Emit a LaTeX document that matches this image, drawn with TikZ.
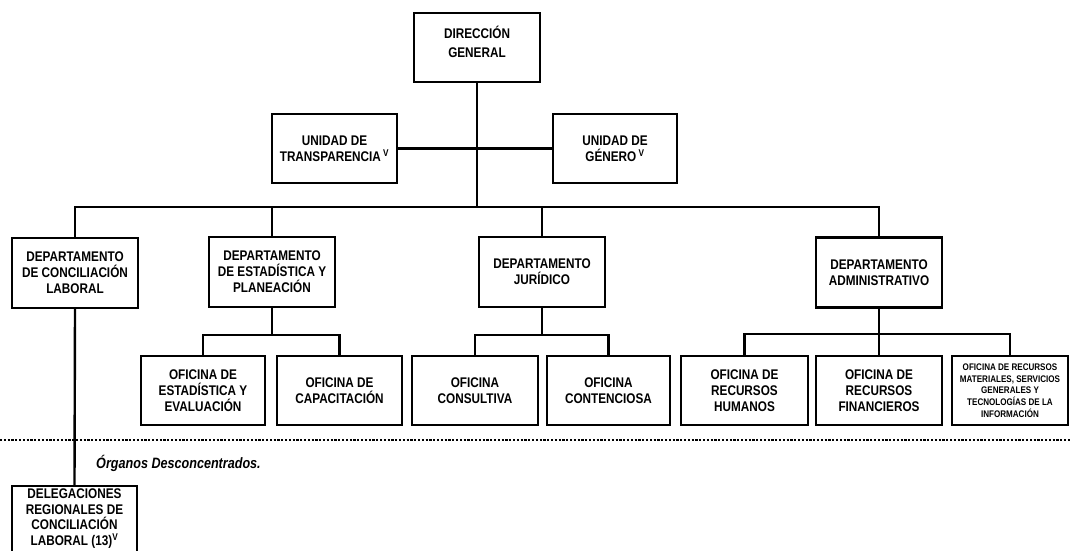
\documentclass[tikz,border=0pt]{standalone}
\usepackage{fontspec}
\newfontfamily\orgfont[FakeStretch=0.84]{Liberation Sans}
\pgfdeclarelayer{background}
\pgfsetlayers{background,main}
\begin{document}
\begin{tikzpicture}[x=1pt,y=-1pt,
  orgbox/.style={draw=black, line width=2.3pt, fill=white, inner sep=0pt, align=center,
    font=\orgfont\bfseries\fontsize{14}{16}\selectfont},
  wbox/.style={orgbox, minimum width=126pt, minimum height=69pt},
  smalltext/.style={font=\orgfont\bfseries\fontsize{9.6}{11.8}\selectfont},
  plaintext/.style={inner sep=0pt, align=center, font=\orgfont\bfseries\fontsize{14}{15.5}\selectfont},
  conn/.style={line width=2.4pt, line cap=rect},
  sepline/.style={line width=2pt, dash pattern=on 2.2pt off 1.6pt}
]
\useasboundingbox (0,0) rectangle (1071,551);

% top level
\node[wbox] (dg) at (477,47.5) {DIRECCIÓN\\[3pt]GENERAL\\[-4pt]\mbox{}};
\node[wbox, minimum width=125pt] (tr) at (334.5,148.5) {UNIDAD DE\\TRANSPARENCIA\,\textsuperscript{V}};
\node[wbox, minimum width=124pt] (ge) at (615,148.5) {UNIDAD DE\\GÉNERO\,\textsuperscript{V}};

% departments
\node[wbox, minimum height=70pt] (dc) at (75,273) {DEPARTAMENTO\\DE CONCILIACIÓN\\LABORAL};
\node[wbox, minimum height=70pt] (de) at (272,272) {DEPARTAMENTO\\DE ESTADÍSTICA Y\\PLANEACIÓN};
\node[wbox, minimum height=70pt] (dj) at (542,272) {DEPARTAMENTO\\JURÍDICO};
\node[wbox, minimum height=70pt] (da) at (879,272.5) {DEPARTAMENTO\\ADMINISTRATIVO};

% offices
\node[wbox, minimum width=124pt] (oe) at (203,390.5) {OFICINA DE\\ESTADÍSTICA Y\\EVALUACIÓN};
\node[wbox, minimum width=125pt] (oc) at (339.5,390.5) {OFICINA DE\\CAPACITACIÓN};
\node[wbox] (ocn) at (475,390.5) {OFICINA\\CONSULTIVA};
\node[wbox, minimum width=123pt] (oct) at (608.5,390.5) {OFICINA\\CONTENCIOSA};
\node[wbox, minimum width=127pt] (orh) at (744.5,390.5) {OFICINA DE\\RECURSOS\\HUMANOS};
\node[wbox] (orf) at (879,390.5) {OFICINA DE\\RECURSOS\\FINANCIEROS};
\node[wbox, minimum width=116pt, smalltext] (orm) at (1010,390.5) {OFICINA DE RECURSOS\\MATERIALES, SERVICIOS\\GENERALES Y\\TECNOLOGÍAS DE LA\\INFORMACIÓN};

% deconcentrated
\node[orgbox, minimum width=125pt, minimum height=80pt, anchor=north] (dl) at (74.5,485) {};
\node[plaintext, anchor=north] (dlt) at ([yshift=-4pt]dl.north)
  {DELEGACIONES\\REGIONALES DE\\CONCILIACIÓN\\LABORAL (13)\textsuperscript{V}};
\node[anchor=west, inner sep=0pt, font=\orgfont\bfseries\itshape\fontsize{15}{18}\selectfont] (og) at (96,463) {Órganos Desconcentrados.};

% helper coordinates
\coordinate (bus) at (477,207);
\coordinate (sbe) at (272,335);
\coordinate (sbj) at (542,335);
\coordinate (sba) at (879,334);
\coordinate (sl) at (0,440);
\coordinate (sr) at (1071,440);

% white page and connectors, behind the boxes
\begin{pgfonlayer}{background}
\fill[white] (0,0) rectangle (1071,551);
\draw[conn] (dg.south) -- (bus);
\draw[conn] (tr.east) -- (ge.west);
\draw[conn] (dc.north) |- (da.north |- bus) -- (da.north);
\draw[conn] (de.north) -- (de.north |- bus);
\draw[conn] (dj.north) -- (dj.north |- bus);
\draw[conn] (de.south) -- (sbe);
\draw[conn] (oe.north) |- (oc.north |- sbe) -- (oc.north);
\draw[conn] (dj.south) -- (sbj);
\draw[conn] (ocn.north) |- (oct.north |- sbj) -- (oct.north);
\draw[conn] (da.south) -- (sba);
\draw[conn] (orh.north) |- (orm.north |- sba) -- (orm.north);
\draw[conn] (orf.north) -- (sba);
\draw[conn] (dc.south) -- (dl.north);
\draw[sepline] (sl) -- (sr);
\end{pgfonlayer}
\end{tikzpicture}
\end{document}
